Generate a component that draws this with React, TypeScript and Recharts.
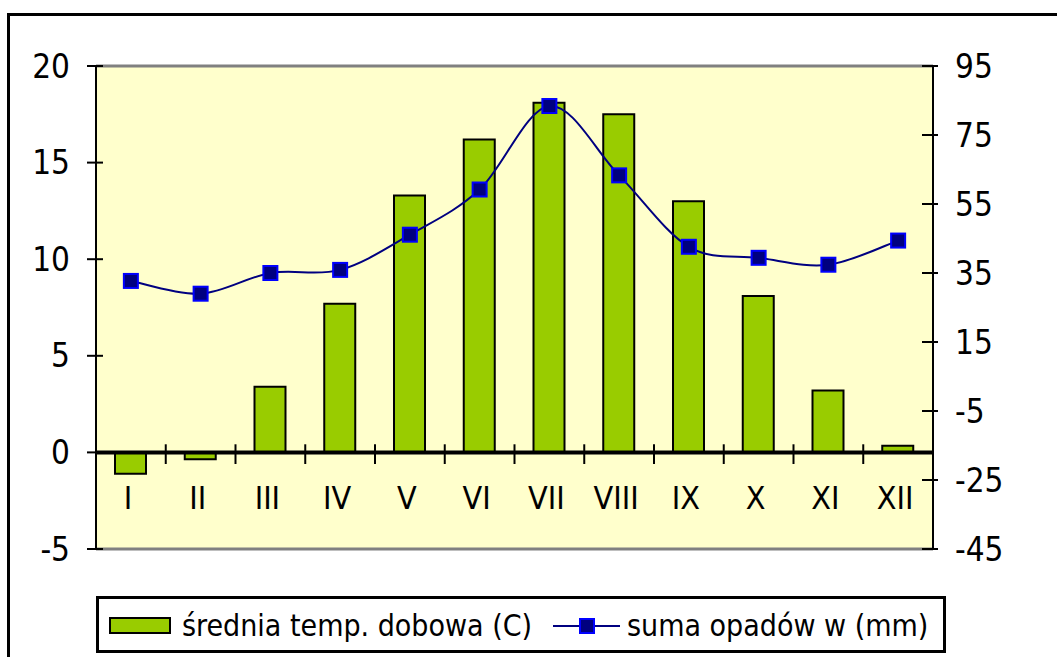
import {
  ComposedChart,
  Bar,
  Line,
  XAxis,
  YAxis,
  CartesianGrid,
  ReferenceLine,
} from 'recharts';

// Climate chart: mean daily temperature (bars) and monthly precipitation (line)
const months = ['I', 'II', 'III', 'IV', 'V', 'VI', 'VII', 'VIII', 'IX', 'X', 'XI', 'XII'];
const temperature = [-1.1, -0.35, 3.4, 7.7, 13.3, 16.2, 18.1, 17.5, 13.0, 8.1, 3.2, 0.35];
const precipitation = [32.7, 29.0, 35.0, 35.9, 46.1, 59.2, 83.4, 63.3, 42.6, 39.4, 37.4, 44.4];
const leftTicks = [-5, 0, 5, 10, 15, 20];
const rightTicks = [-45, -25, -5, 15, 35, 55, 75, 95];
const boundaries = [1, 2, 3, 4, 5, 6, 7, 8, 9, 10, 11];

const tempLabel = 'średnia temp. dobowa (C)';
const rainLabel = 'suma opadów w (mm)';

const data = months.map((m, i) => ({
  month: m,
  pos: i + 0.5,
  temp: temperature[i],
  rain: precipitation[i],
}));

const FONT = '"Liberation Sans Narrow", "DejaVu Sans Condensed", "Liberation Sans", Arial, sans-serif';
const BAR_FILL = '#99CC00';
const LINE_COLOR = '#000080';
const MARKER_EDGE = '#0000FF';

// Excel-like smoothed line (Catmull-Rom style cubic segments)
function smoothCurve(context: any) {
  let pts: number[][] = [];
  return {
    areaStart() {},
    areaEnd() {},
    lineStart() {
      pts = [];
    },
    point(x: number, y: number) {
      pts.push([+x, +y]);
    },
    lineEnd() {
      if (!pts.length) return;
      context.moveTo(pts[0][0], pts[0][1]);
      const t = 1 / 6;
      for (let i = 0; i < pts.length - 1; i++) {
        const p0 = pts[i - 1] || pts[i];
        const p1 = pts[i];
        const p2 = pts[i + 1];
        const p3 = pts[i + 2] || p2;
        context.bezierCurveTo(
          p1[0] + (p2[0] - p0[0]) * t,
          p1[1] + (p2[1] - p0[1]) * t,
          p2[0] - (p3[0] - p1[0]) * t,
          p2[1] - (p3[1] - p1[1]) * t,
          p2[0],
          p2[1]
        );
      }
    },
  };
}

function LeftTick({ x, y, payload }: any) {
  return (
    <g>
      <line x1={x - 9} x2={x + 7} y1={y} y2={y} stroke="#000" strokeWidth={2} />
      <text x={x - 26} y={y} textAnchor="end" dominantBaseline="central" fontSize={33} fontFamily={FONT} fill="#000">
        {payload.value}
      </text>
    </g>
  );
}

function RightTick({ x, y, payload }: any) {
  return (
    <g>
      <line x1={x - 11} x2={x + 5} y1={y} y2={y} stroke="#000" strokeWidth={2} />
      <text x={x + 22} y={y} textAnchor="start" dominantBaseline="central" fontSize={33} fontFamily={FONT} fill="#000">
        {payload.value}
      </text>
    </g>
  );
}

function MonthTick({ x, y, payload }: any) {
  return (
    <text x={x - 3} y={y - 51} textAnchor="middle" dominantBaseline="central" fontSize={32} fontFamily={FONT} fill="#000">
      {payload.value}
    </text>
  );
}

function SquareDot({ cx, cy }: any) {
  if (cx == null || cy == null) return null;
  return <rect x={cx - 7} y={cy - 7} width={14} height={14} fill={LINE_COLOR} stroke={MARKER_EDGE} strokeWidth={2} />;
}

export default function App() {
  return (
    <div style={{ position: 'relative', width: 1057, height: 657, overflow: 'hidden', background: '#fff' }}>
      <style>{`body{margin:0}`}</style>

      {/* outer chart frame */}
      <div
        style={{
          position: 'absolute',
          left: 7,
          top: 13,
          width: 1200,
          height: 800,
          borderTop: '3px solid #000',
          borderLeft: '3px solid #000',
        }}
      />

      <div style={{ position: 'absolute', left: 0, top: 0 }}>
        <ComposedChart width={1057} height={657} data={data} margin={{ top: 66, right: 44, bottom: 78, left: 16 }}>
          <CartesianGrid yAxisId="left" xAxisId="cat" horizontal={false} vertical={false} fill="#FFFFCC" />
          <XAxis
            xAxisId="cat"
            dataKey="month"
            height={30}
            axisLine={false}
            tickLine={false}
            tickSize={0}
            tickMargin={0}
            interval={0}
            tick={<MonthTick />}
          />
          <XAxis xAxisId="num" dataKey="pos" type="number" scale="linear" domain={[0, 12]} allowDataOverflow hide />
          <YAxis
            yAxisId="left"
            orientation="left"
            width={80}
            domain={[-5, 20]}
            ticks={leftTicks}
            interval={0}
            axisLine={{ stroke: '#000', strokeWidth: 2 }}
            tickLine={false}
            tickSize={0}
            tickMargin={0}
            tick={<LeftTick />}
          />
          <YAxis
            yAxisId="right"
            orientation="right"
            width={80}
            domain={[-45, 95]}
            ticks={rightTicks}
            interval={0}
            axisLine={{ stroke: '#000', strokeWidth: 2 }}
            tickLine={false}
            tickSize={0}
            tickMargin={0}
            tick={<RightTick />}
          />
          <ReferenceLine yAxisId="left" xAxisId="cat" y={20} stroke="#808080" strokeWidth={3} />
          <ReferenceLine yAxisId="left" xAxisId="cat" y={-5} stroke="#808080" strokeWidth={3} />
          <Bar
            xAxisId="cat"
            yAxisId="left"
            dataKey="temp"
            barSize={31}
            fill={BAR_FILL}
            stroke="#000"
            strokeWidth={2}
            isAnimationActive={false}
          />
          <ReferenceLine yAxisId="left" xAxisId="cat" y={0} stroke="#000" strokeWidth={4} />
          {boundaries.map((b) => (
            <ReferenceLine
              key={b}
              xAxisId="num"
              yAxisId="left"
              segment={[
                { x: b, y: 0.42 },
                { x: b, y: -0.6 },
              ]}
              stroke="#000"
              strokeWidth={2}
            />
          ))}
          <Line
            xAxisId="cat"
            yAxisId="right"
            type={smoothCurve as any}
            dataKey="rain"
            stroke={LINE_COLOR}
            strokeWidth={2}
            dot={<SquareDot />}
            activeDot={false}
            isAnimationActive={false}
          />
        </ComposedChart>
      </div>

      {/* legend */}
      <div
        style={{
          position: 'absolute',
          left: 96,
          top: 596,
          width: 844,
          height: 51,
          border: '3px solid #000',
          background: '#fff',
          fontFamily: FONT,
          fontSize: 30,
          color: '#000',
        }}
      >
        <svg width={844} height={51} style={{ position: 'absolute', left: 0, top: 0 }}>
          <rect x={11} y={19} width={60} height={15} fill={BAR_FILL} stroke="#000" strokeWidth={2} />
          <text x={83} y={26} dominantBaseline="central" fontFamily={FONT} fontSize={30}>
            {tempLabel}
          </text>
          <line x1={454} x2={521} y1={27} y2={27} stroke={LINE_COLOR} strokeWidth={2} />
          <rect x={481} y={20} width={14} height={14} fill={LINE_COLOR} stroke={MARKER_EDGE} strokeWidth={2} />
          <text x={528} y={26} dominantBaseline="central" fontFamily={FONT} fontSize={30}>
            {rainLabel}
          </text>
        </svg>
      </div>
    </div>
  );
}
